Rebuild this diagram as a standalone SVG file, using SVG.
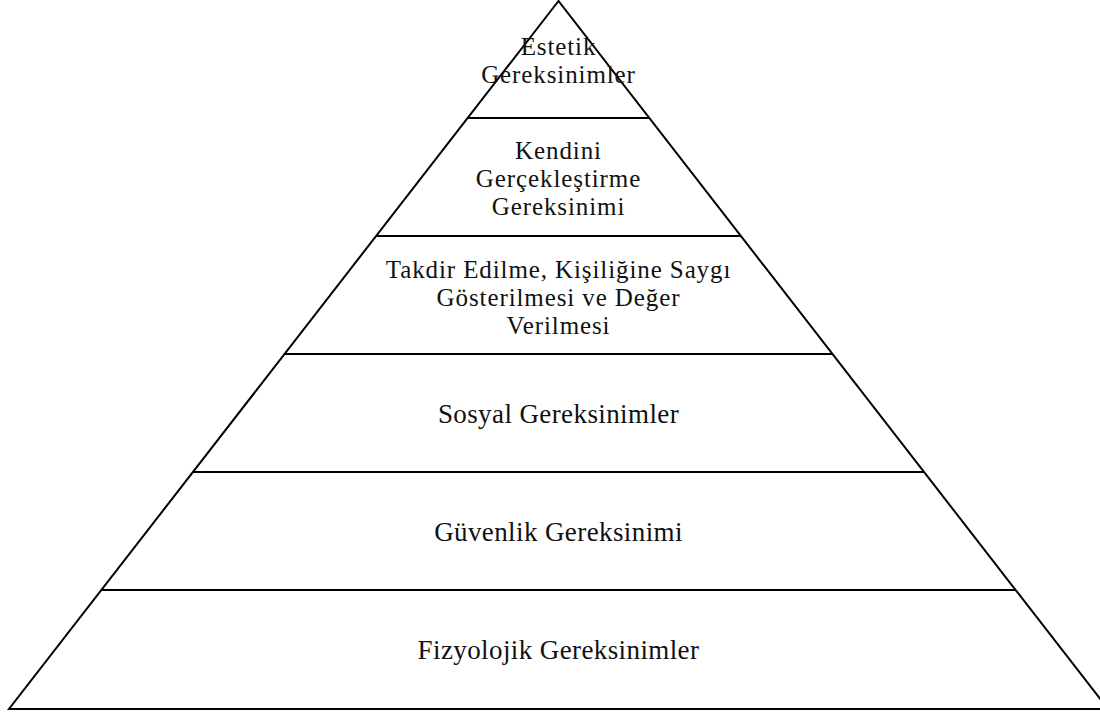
<svg xmlns="http://www.w3.org/2000/svg" width="1100" height="719" viewBox="0 0 1100 719">
<style>
.ln{stroke:#000;stroke-width:2;fill:none;stroke-linejoin:miter}
.t{font-family:"Liberation Serif","Times New Roman",serif;font-size:27px;letter-spacing:0.4px;fill:#111;text-anchor:middle}
.m{font-size:25px;letter-spacing:0.9px}
</style>
<rect width="1100" height="719" fill="#fff"/>
<g id="pyramid">
<polygon class="ln" points="558.5,1 9,709 1108,709"/>
</g>
<g id="dividers">
<line class="ln" x1="467.7" y1="118" x2="649.3" y2="118"/>
<line class="ln" x1="376.1" y1="236" x2="740.9" y2="236"/>
<line class="ln" x1="284.5" y1="354" x2="832.5" y2="354"/>
<line class="ln" x1="192.9" y1="472" x2="924.1" y2="472"/>
<line class="ln" x1="101.4" y1="590" x2="1015.6" y2="590"/>
</g>
<g id="estetik">
<text class="t m" x="558.5" y="55">Estetik</text>
<text class="t m" x="558.5" y="83">Gereksinimler</text>
</g>
<g id="kendini">
<text class="t m" x="558.5" y="159">Kendini</text>
<text class="t m" x="558.5" y="187">Gerçekleştirme</text>
<text class="t m" x="558.5" y="215">Gereksinimi</text>
</g>
<g id="takdir">
<text class="t m" x="558.5" y="278">Takdir Edilme, Kişiliğine Saygı</text>
<text class="t m" x="558.5" y="306">Gösterilmesi ve Değer</text>
<text class="t m" x="558.5" y="334">Verilmesi</text>
</g>
<g id="sosyal">
<text class="t" x="558.5" y="423">Sosyal Gereksinimler</text>
</g>
<g id="guvenlik">
<text class="t" x="558.5" y="541">Güvenlik Gereksinimi</text>
</g>
<g id="fizyolojik">
<text class="t" x="558.5" y="659">Fizyolojik Gereksinimler</text>
</g>
</svg>
